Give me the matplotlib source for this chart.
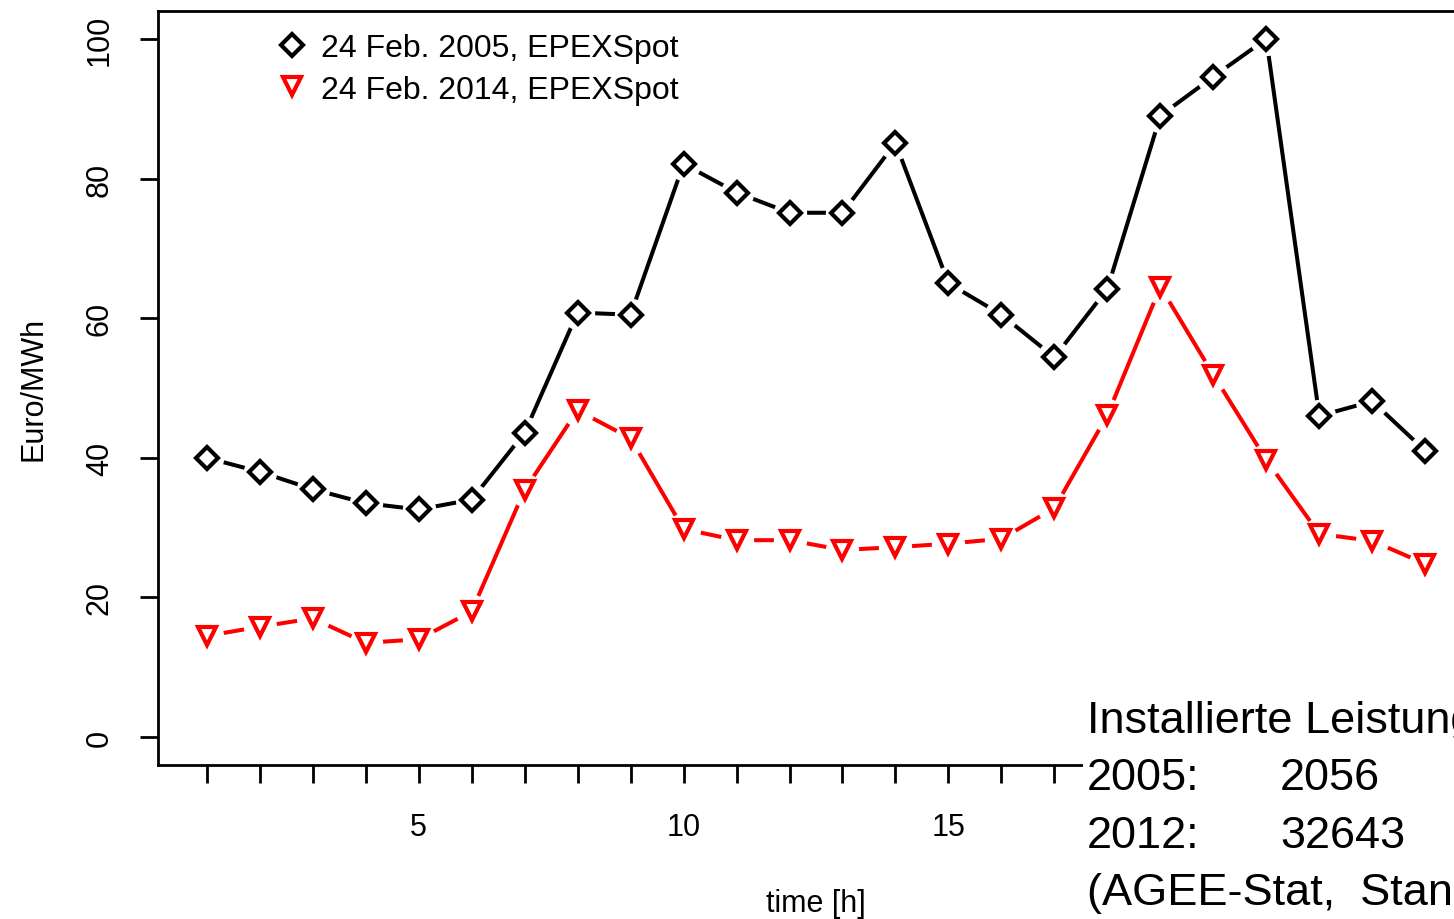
import matplotlib
matplotlib.use("Agg")
import matplotlib.pyplot as plt
from matplotlib.lines import Line2D
from matplotlib.patches import Rectangle

plt.rcParams.update({"font.family": ["Liberation Sans", "DejaVu Sans"]})

# hourly spot prices, Euro/MWh
hours = list(range(1, 25))
price_2005 = [40.0, 38.0, 35.5, 33.5, 32.6, 34.0, 43.6, 60.8, 60.5, 82.1, 78.0, 75.1,
              75.1, 85.1, 65.0, 60.5, 54.4, 64.2, 89.0, 94.6, 100.0, 46.0, 48.1, 41.0]
price_2014 = [14.5, 15.8, 17.0, 13.5, 14.0, 18.0, 35.4, 46.8, 42.8, 29.8, 28.2, 28.2,
              26.8, 27.2, 27.7, 28.4, 32.8, 46.1, 64.5, 51.9, 39.7, 29.1, 28.1, 24.8]
label_2005 = "24 Feb. 2005, EPEXSpot"
label_2014 = "24 Feb. 2014, EPEXSpot"

y_ticks = [0, 20, 40, 60, 80, 100]
x_labelled = [5, 10, 15, 20]

note_lines = ["Installierte Leistung Photovoltaik [MW]", "2005:", "2012:", "(AGEE-Stat,  Stand 2013)"]
note_values = ["", "2056", "32643", ""]

fig = plt.figure(figsize=(14.54, 9.2), dpi=100)
ax = fig.add_axes([158 / 1454, 154 / 920, 1316 / 1454, 754 / 920])

lw = 2.9
# type="b": lines with gaps around the points
for vals, col, mk, ms in [(price_2005, "black", "D", 10.7), (price_2014, "red", "v", 12.5)]:
    ax.plot(hours, vals, color=col, lw=lw, zorder=2)
    ax.plot(hours, vals, ls="none", marker="o", ms=24, mfc="white", mec="none", zorder=3)
    ax.plot(hours, vals, ls="none", marker=mk, ms=ms, mfc="white", mec=col, mew=3, zorder=4)

ax.set_xlim(0.08, 24.92)
ax.set_ylim(-4, 104)
ax.set_xticks(hours)
ax.set_xticklabels([str(h) if h in x_labelled else "" for h in hours])
ax.set_yticks(y_ticks)
ax.set_yticklabels([str(v) for v in y_ticks], rotation=90, va="center")
ax.tick_params(axis="both", length=13, width=2, labelsize=22)
ax.tick_params(axis="x", pad=21)
ax.tick_params(axis="y", pad=18)
for s in ax.spines.values():
    s.set_linewidth(2)

ax.set_xlabel("time [h]", fontsize=22, labelpad=33)
ax.set_ylabel("Euro/MWh", fontsize=22, labelpad=26)

handles = [
    Line2D([], [], ls="none", marker="D", ms=10.7, mfc="white", mec="black", mew=3),
    Line2D([], [], ls="none", marker="v", ms=12.5, mfc="white", mec="red", mew=3),
]
ax.legend(handles, [label_2005, label_2014], loc="upper left",
          bbox_to_anchor=(0.073, 1.0), frameon=False, fontsize=23,
          handlelength=1.0, handletextpad=0.4, labelspacing=0.35, borderaxespad=0.3)

# white note box in the lower right corner
fig.add_artist(Rectangle((1083 / 1454, 0), 1 - 1083 / 1454, 232 / 920,
                         transform=fig.transFigure, facecolor="white",
                         edgecolor="none", zorder=10))
for i, (a, b) in enumerate(zip(note_lines, note_values)):
    yb = 1 - (733 + 57.5 * i) / 920
    fig.text(1087 / 1454, yb, a, fontsize=32.5, va="baseline", ha="left", zorder=11)
    if b:
        fig.text(1280 / 1454, yb, b, fontsize=32.5, va="baseline", ha="left", zorder=11)

fig.savefig("out.png", dpi=100)
